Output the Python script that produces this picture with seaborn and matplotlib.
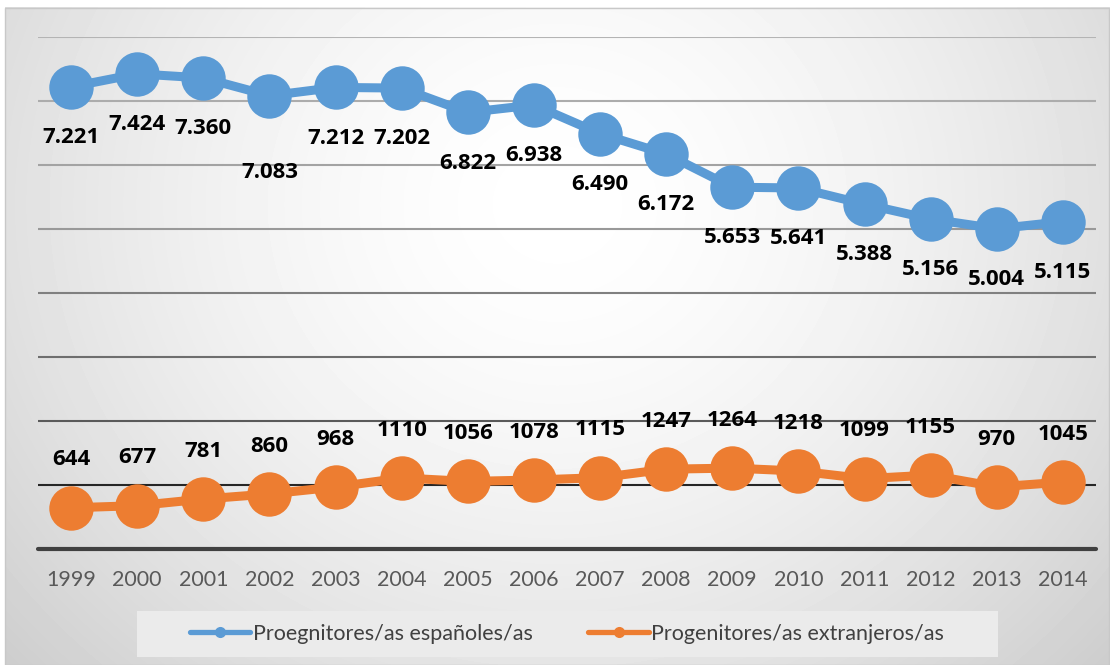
import numpy as np
import pandas as pd
import seaborn as sns
import matplotlib.pyplot as plt
from matplotlib.patches import Rectangle

years = list(range(1999, 2015))
espanoles = [7221, 7424, 7360, 7083, 7212, 7202, 6822, 6938, 6490, 6172,
             5653, 5641, 5388, 5156, 5004, 5115]
extranjeros = [644, 677, 781, 860, 968, 1110, 1056, 1078, 1115, 1247,
               1264, 1218, 1099, 1155, 970, 1045]
series_names = ["Proegnitores/as españoles/as", "Progenitores/as extranjeros/as"]

df = pd.DataFrame({
    "year": years * 2,
    "value": espanoles + extranjeros,
    "serie": [series_names[0]] * len(years) + [series_names[1]] * len(years),
})

sns.set_theme(style="white")
plt.rcParams["font.family"] = ["Lato", "DejaVu Sans"]

blue = "#5B9BD5"
orange = "#ED7D31"

fig = plt.figure(figsize=(11.1, 6.65), dpi=100)

# radial grey gradient behind the chart
W, H = 1105, 658
xx, yy = np.meshgrid(np.linspace(0, 1, W), np.linspace(0, 1, H))
r = np.sqrt(((xx - 0.5) / 0.62) ** 2 + ((yy - 0.3) / 0.95) ** 2)
shade = 1 - 0.17 * np.clip(r, 0, 1.2) ** 1.6
bg = fig.add_axes([5 / 1110, 0, 1105 / 1110, 658 / 665], zorder=0)
bg.imshow(shade, cmap="gray", vmin=0, vmax=1, aspect="auto", extent=[0, 1, 0, 1])
bg.axis("off")
fig.patches.append(Rectangle((5 / 1110, 0), 1104 / 1110, 657 / 665,
                             transform=fig.transFigure, fill=False,
                             ec="#c8c8c8", lw=1, zorder=1))

ax = fig.add_axes([38 / 1110, 1 - 549 / 665, 1058 / 1110, 512 / 665], zorder=2)
ax.set_facecolor("none")

grid_colors = ["#262626", "#5a5a5a", "#6e6e6e", "#808080",
               "#999999", "#a3a3a3", "#acacac", "#b4b4b4"]
for i, c in enumerate(grid_colors):
    ax.axhline((i + 1) * 1000, color=c, lw=1.5, zorder=0)
ax.axhline(0, color="#404040", lw=3, zorder=0, clip_on=False)

sns.lineplot(data=df, x="year", y="value", hue="serie", hue_order=series_names,
             palette=[blue, orange], marker="o", markersize=32,
             markeredgewidth=0, linewidth=6.5, ax=ax, zorder=3)

lab_font = dict(family=["Open Sans", "DejaVu Sans"], fontsize=16,
                fontweight="bold", color="black")
for yr, v in zip(years, espanoles):
    off = -55 if v == 7083 else -36.5
    ax.annotate(f"{v:,}".replace(",", "."), (yr, v), xytext=(0, off),
                textcoords="offset points", ha="center", va="center",
                zorder=4, **lab_font)
for yr, v in zip(years, extranjeros):
    ax.annotate(str(v), (yr, v), xytext=(0, 34.5),
                textcoords="offset points", ha="center", va="center",
                zorder=4, **lab_font)

ax.set_xlim(1998.5, 2014.5)
ax.set_ylim(0, 8000)
ax.set_xticks(years)
ax.set_xticklabels([str(y) for y in years])
ax.set_yticks([])
ax.tick_params(axis="x", length=0, pad=15, labelsize=15.5, labelcolor="#595959")
ax.set_xlabel("")
ax.set_ylabel("")
for s in ax.spines.values():
    s.set_visible(False)

# legend
fig.patches.append(Rectangle((137 / 1110, 1 - 657 / 665), 861 / 1110, 46 / 665,
                             transform=fig.transFigure, fc="#ebebeb",
                             ec="none", zorder=1))
handles, labels = ax.get_legend_handles_labels()
leg = ax.legend(handles, labels, ncol=2, loc="center",
                bbox_to_anchor=(567 / 1110, 1 - 634 / 665),
                bbox_transform=fig.transFigure, frameon=False,
                fontsize=15.5, handlelength=2.8, handletextpad=0.1,
                columnspacing=2.6)
for h in leg.legend_handles:
    h.set_markersize(8)
    h.set_linewidth(3.8)
for t in leg.get_texts():
    t.set_color("#404040")

fig.savefig("out.png", dpi=100)
